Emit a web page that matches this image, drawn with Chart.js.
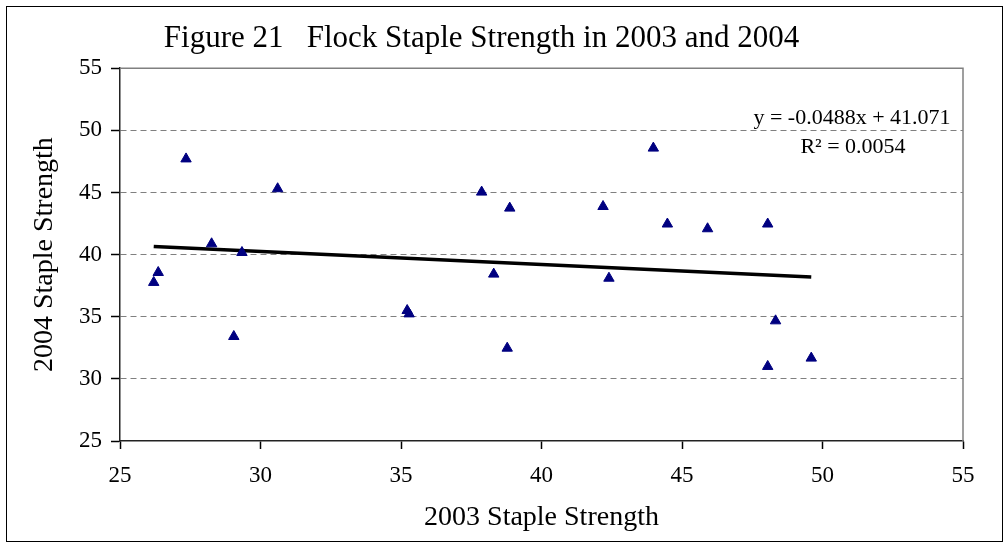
<!DOCTYPE html>
<html>
<head>
<meta charset="utf-8">
<script src="https://cdn.jsdelivr.net/npm/chart.js@4"></script>
<style>
  body { margin: 0; background: #fff; }
</style>
</head>
<body>
<canvas id="myChart" width="1006" height="543"></canvas>
<script>
// 2003 vs 2004 staple strength
var strength2003 = [27.35, 30.61, 28.26, 29.34, 26.36, 26.2, 29.05, 35.22, 35.29, 37.87, 38.87,
                    38.3, 38.78, 42.19, 42.4, 43.98, 44.48, 45.91, 48.05, 48.33, 48.05, 49.6];
var strength2004 = [47.7, 45.3, 40.87, 40.17, 38.56, 37.76, 33.41, 35.5, 35.23, 45.03, 43.74,
                    38.43, 32.47, 43.87, 38.1, 48.57, 42.46, 42.08, 42.46, 34.67, 31.0, 31.67];
// trend line as drawn (ends at min / max x)
var trendX = [26.2, 49.6];
var trendY = [40.65, 38.2];
var axisTicks = [25, 30, 35, 40, 45, 50, 55];
var equationText = ['y = -0.0488x + 41.071', 'R\u00B2 = 0.0054'];

const serif = "'Times New Roman', 'Liberation Serif', serif";

var points = strength2003.map((x, i) => ({x: x, y: strength2004[i]}));
var trend = trendX.map((x, i) => ({x: x, y: trendY[i]}));

// outer frame, top/right plot border and the trend equation
const extras = {
    id: 'extras',
    beforeDraw(chart) {
        const c = chart.ctx;
        c.save();
        c.fillStyle = '#fff';
        c.fillRect(0, 0, chart.width, chart.height);
        c.strokeStyle = '#000';
        c.lineWidth = 1;
        c.strokeRect(6.5, 6.5, 996, 535);
        c.restore();
    },
    afterDatasetsDraw(chart) {
        const c = chart.ctx;
        const a = chart.chartArea;
        c.save();
        c.strokeStyle = '#808080';
        c.lineWidth = 1.5;
        c.beginPath();
        c.moveTo(a.left, a.top);
        c.lineTo(a.right, a.top);
        c.lineTo(a.right, a.bottom);
        c.stroke();
        c.fillStyle = '#000';
        c.font = '22px ' + serif;
        c.textAlign = 'center';
        c.textBaseline = 'middle';
        c.fillText(equationText[0], a.right - 111, a.top + 50);
        c.fillText(equationText[1], a.right - 110, a.top + 79);
        c.restore();
    }
};

new Chart(document.getElementById('myChart'), {
    type: 'scatter',
    data: {
        datasets: [{
            label: 'Staple strength',
            data: points,
            pointStyle: 'triangle',
            pointRadius: 6,
            pointHoverRadius: 6,
            backgroundColor: '#000080',
            borderColor: '#000080',
            borderWidth: 1
        }, {
            label: 'Linear trend',
            type: 'line',
            data: trend,
            showLine: true,
            borderColor: '#000',
            borderWidth: 3.5,
            pointRadius: 0,
            fill: false
        }]
    },
    options: {
        responsive: false,
        animation: false,
        layout: { padding: { left: 0, right: 43, top: 0, bottom: 0 } },
        plugins: {
            legend: { display: false },
            tooltip: { enabled: false },
            title: {
                display: true,
                text: 'Figure 21   Flock Staple Strength in 2003 and 2004',
                color: '#000',
                font: { family: serif, size: 31, weight: 'normal' },
                padding: { top: 20, bottom: 11 }
            }
        },
        scales: {
            x: {
                type: 'linear',
                min: 25,
                max: 55,
                afterBuildTicks: s => { s.ticks = axisTicks.map(v => ({value: v})); },
                afterFit: s => { s.height = 102; },
                grid: { drawOnChartArea: false, drawTicks: true, tickLength: 8, tickColor: '#000', tickWidth: 1.5 },
                border: { color: '#222', width: 1.5 },
                ticks: { color: '#000', padding: 13, font: { family: serif, size: 23 } },
                title: {
                    display: true,
                    text: '2003 Staple Strength',
                    color: '#000',
                    font: { family: serif, size: 28 },
                    padding: { top: 0, bottom: 9 }
                }
            },
            y: {
                type: 'linear',
                min: 25,
                max: 55,
                afterBuildTicks: s => { s.ticks = axisTicks.map(v => ({value: v})); },
                afterFit: s => { s.width = 120; },
                grid: {
                    color: ctx => (ctx.tick && (ctx.tick.value === 25 || ctx.tick.value === 55)) ? 'rgba(0,0,0,0)' : '#808080',
                    lineWidth: 1,
                    drawTicks: true,
                    tickLength: 9,
                    tickColor: '#000',
                    tickWidth: 1.5,
                    tickBorderDash: [0, 0]
                },
                border: { color: '#222', width: 1.5, dash: [6, 4] },
                ticks: { color: '#000', padding: 9, font: { family: serif, size: 23 } },
                title: {
                    display: true,
                    text: '2004 Staple Strength',
                    color: '#000',
                    font: { family: serif, size: 28 },
                    padding: { top: 28, bottom: 0 }
                }
            }
        }
    },
    plugins: [extras]
});
</script>
</body>
</html>
